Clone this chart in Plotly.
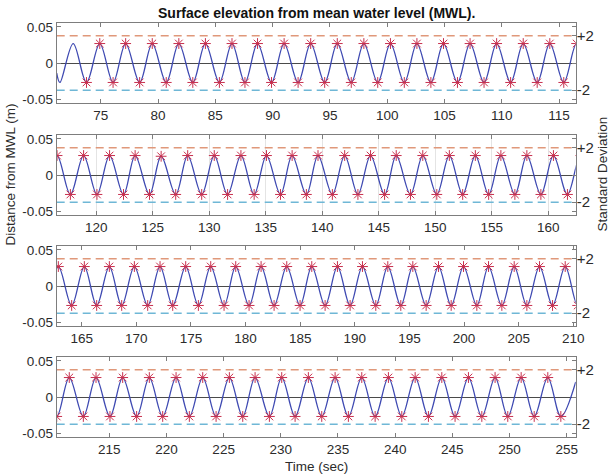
import plotly.graph_objects as go

# ---------------------------------------------------------------------------
# Surface elevation record (m) relative to mean water level, 4 stacked windows
# ---------------------------------------------------------------------------

# first and last samples of the record
record_start_t, record_start_h = 71.15, -0.014
record_end_t, record_end_h = 255.79, 0.021

# extrema before the peak finder starts marking (trough, crest)
early_t = [71.43, 72.59]
early_h = [-0.027, 0.027]

# marked wave crests: time (s), elevation (m)
crest_t = [
    74.91, 77.17, 79.49, 81.81, 84.13, 86.45, 88.68, 91.00, 93.32, 95.64,
    97.96, 100.28, 102.59, 104.91, 107.23, 109.55, 111.87, 114.19,
    116.53, 118.88, 121.18, 123.44, 125.74, 128.09, 130.44, 132.80, 135.06,
    137.33, 139.62, 141.98, 144.27, 146.54, 148.89, 151.24, 153.54, 155.80,
    158.10, 160.45,
    162.86, 165.24, 167.53, 169.82, 172.17, 174.52, 176.81, 179.10, 181.42,
    183.77, 186.06, 188.41, 190.70, 193.02, 195.31, 197.66, 199.95, 202.24,
    204.59, 206.91, 209.26,
    211.50, 213.84, 216.17, 218.50, 220.84, 223.17, 225.50, 227.75, 230.08,
    232.41, 234.75, 237.08, 239.41, 241.75, 244.08, 246.41, 248.74, 251.02,
    253.35,
]
crest_h = [
    0.027, 0.027, 0.027, 0.027, 0.027, 0.027, 0.027, 0.027, 0.027, 0.027,
    0.027, 0.027, 0.027, 0.027, 0.027, 0.027, 0.027, 0.027,
    0.027, 0.027, 0.027, 0.027, 0.026, 0.027, 0.027, 0.027, 0.027,
    0.027, 0.027, 0.027, 0.027, 0.027, 0.027, 0.027, 0.027, 0.027,
    0.027, 0.027,
    0.027, 0.027, 0.027, 0.027, 0.027, 0.027, 0.027, 0.027, 0.027,
    0.027, 0.027, 0.027, 0.027, 0.027, 0.027, 0.027, 0.027, 0.027,
    0.027, 0.027, 0.027,
    0.027, 0.027, 0.027, 0.027, 0.027, 0.027, 0.027, 0.027, 0.027,
    0.027, 0.027, 0.027, 0.027, 0.027, 0.027, 0.027, 0.027, 0.027,
    0.027,
]

# marked wave troughs: time (s), elevation (m)
trough_t = [
    73.75, 76.07, 78.39, 80.71, 83.03, 85.35, 87.58, 89.90, 92.22, 94.54,
    96.86, 99.17, 101.49, 103.81, 106.13, 108.45, 110.77, 113.09, 115.41,
    117.71, 120.06, 122.41, 124.71, 127.03, 129.33, 131.62, 133.97, 136.30,
    138.59, 140.89, 143.15, 145.51, 147.80, 150.13, 152.42, 154.72, 157.04,
    159.34, 161.69,
    164.08, 166.37, 168.66, 171.04, 173.33, 175.68, 178.03, 180.32, 182.61,
    184.99, 187.28, 189.57, 191.92, 194.21, 196.53, 198.82, 201.17, 203.46,
    205.75, 208.10,
    210.40, 212.73, 215.06, 217.39, 219.67, 222.00, 224.34, 226.67, 229.00,
    231.25, 233.58, 235.91, 238.25, 240.58, 242.91, 245.24, 247.58, 249.85,
    252.16, 254.49,
]
trough_h = [
    -0.027, -0.027, -0.027, -0.027, -0.027, -0.027, -0.027, -0.027, -0.027,
    -0.027, -0.027, -0.027, -0.027, -0.027, -0.027, -0.027, -0.027, -0.027,
    -0.027,
    -0.027, -0.027, -0.027, -0.027, -0.027, -0.027, -0.027, -0.027, -0.027,
    -0.027, -0.027, -0.027, -0.027, -0.027, -0.027, -0.027, -0.027, -0.027,
    -0.027, -0.027,
    -0.027, -0.027, -0.027, -0.027, -0.027, -0.027, -0.027, -0.027, -0.027,
    -0.027, -0.027, -0.027, -0.027, -0.027, -0.027, -0.027, -0.027, -0.027,
    -0.027, -0.027,
    -0.027, -0.027, -0.027, -0.027, -0.027, -0.027, -0.027, -0.027, -0.027,
    -0.027, -0.027, -0.027, -0.027, -0.027, -0.027, -0.027, -0.027, -0.027,
    -0.027, -0.027,
]

# standard deviation of the elevation (m); reference lines at +/- 2 sigma
sigma = 0.0189
sd_levels = [2, -2]
sd_labels = ["+2", "-2"]

# time window of each panel (s) and its tick labels
panel_start = [71.15, 116.50, 162.71, 210.40]
panel_end = [116.45, 162.42, 210.22, 255.79]
panel_ticks = [
    [75, 80, 85, 90, 95, 100, 105, 110, 115],
    [120, 125, 130, 135, 140, 145, 150, 155, 160],
    [165, 170, 175, 180, 185, 190, 195, 200, 205, 210],
    [215, 220, 225, 230, 235, 240, 245, 250, 255],
]
elev_ticks = [-0.05, 0, 0.05]
elev_tick_text = ["-0.05", "0", "0.05"]
elev_range = [-0.0555, 0.0555]

# ---------------------------------------------------------------------------
# surface trace through every sample, sorted in time
samples = sorted(
    [(record_start_t, record_start_h), (record_end_t, record_end_h)]
    + list(zip(early_t, early_h))
    + list(zip(crest_t, crest_h))
    + list(zip(trough_t, trough_h))
)
wave_t = [s[0] for s in samples]
wave_h = [s[1] for s in samples]
peak_t = crest_t + trough_t
peak_h = crest_h + trough_h

W, H = 611, 475
FONT = "Liberation Sans, Arial, Helvetica, sans-serif"
AX_COL = "#7d7d7d"
TXT_COL = "#2b2b2b"
WAVE_COL = "#3f4ab2"
STAR_COL = "#c8304e"
UP_COL = "#e0987a"
LO_COL = "#6fb7d6"

panel_top_px = [23, 135, 246, 357]
panel_h_px = 80
x0_px, x1_px = 56.7, 575.7

fig = go.Figure()
layout = dict(
    width=W, height=H,
    margin=dict(l=0, r=0, t=0, b=0),
    paper_bgcolor="white", plot_bgcolor="white",
    showlegend=False,
    font=dict(family=FONT, size=13, color=TXT_COL),
)

for i in range(4):
    n = i + 1
    xa = "x" if n == 1 else f"x{n}"
    ya = "y" if n == 1 else f"y{n}"
    ya_r = f"y{n + 4}"
    top = panel_top_px[i]
    dom_y = [1 - (top + panel_h_px) / H, 1 - top / H]

    layout[f"xaxis{n}" if n > 1 else "xaxis"] = dict(
        domain=[x0_px / W, x1_px / W], anchor=ya,
        range=[panel_start[i], panel_end[i]],
        tickvals=panel_ticks[i], ticktext=[str(v) for v in panel_ticks[i]],
        ticks="inside", ticklen=4, tickcolor=AX_COL, tickwidth=1,
        showline=True, linecolor=AX_COL, linewidth=1, mirror="ticks",
        showgrid=(n == 2), gridcolor="#e4e4e4", gridwidth=1,
        zeroline=False, automargin=False,
        tickfont=dict(family=FONT, size=13.5, color=TXT_COL),
    )
    layout[f"yaxis{n}" if n > 1 else "yaxis"] = dict(
        domain=dom_y, anchor=xa, range=elev_range,
        tickvals=elev_ticks, ticktext=elev_tick_text,
        ticks="inside", ticklen=4, tickcolor=AX_COL, tickwidth=1,
        showline=True, linecolor=AX_COL, linewidth=1, mirror="ticks",
        showgrid=False,
        zeroline=True, zerolinecolor="#4a4a4a", zerolinewidth=1.4,
        automargin=False,
        tickfont=dict(family=FONT, size=13.5, color=TXT_COL),
    )
    layout[f"yaxis{n + 4}"] = dict(
        overlaying=ya, anchor=xa, side="right", range=elev_range,
        tickvals=[k * sigma for k in sd_levels], ticktext=sd_labels,
        ticks="inside", ticklen=4, tickcolor=AX_COL, tickwidth=1,
        showline=False, showgrid=False, zeroline=False, automargin=False,
        tickfont=dict(family=FONT, size=15, color=TXT_COL),
    )

    # surface elevation
    fig.add_trace(go.Scatter(
        x=wave_t, y=wave_h, xaxis=xa, yaxis=ya, mode="lines",
        line=dict(color=WAVE_COL, width=1.3, shape="spline", smoothing=1.0),
        hoverinfo="skip",
    ))
    # crests and troughs
    fig.add_trace(go.Scatter(
        x=peak_t, y=peak_h, xaxis=xa, yaxis=ya, mode="markers",
        marker=dict(symbol="asterisk-open", size=9, color=STAR_COL,
                    line=dict(color=STAR_COL, width=1.0)),
        cliponaxis=True, hoverinfo="skip",
    ))
    # +/- 2 standard deviation levels on the right-hand axis
    for lvl, col in zip(sd_levels, [UP_COL, LO_COL]):
        fig.add_trace(go.Scatter(
            x=[panel_start[i], panel_end[i]], y=[lvl * sigma, lvl * sigma],
            xaxis=xa, yaxis=ya_r, mode="lines",
            line=dict(color=col, width=1.3, dash="8px,5px"),
            hoverinfo="skip",
        ))

fig.update_layout(**layout)

# titles
fig.add_annotation(
    text="<b>Surface elevation from mean water level (MWL).</b>",
    x=(x0_px + x1_px) / 2 / W, y=1 - 13.5 / H, xref="paper", yref="paper",
    showarrow=False, xanchor="center", yanchor="middle",
    font=dict(family=FONT, size=14, color="#111111"),
)
fig.add_annotation(
    text="Time (sec)", x=(x0_px + x1_px) / 2 / W, y=1 - 466 / H,
    xref="paper", yref="paper", showarrow=False,
    xanchor="center", yanchor="middle",
    font=dict(family=FONT, size=13.5, color=TXT_COL),
)
fig.add_annotation(
    text="Distance from MWL (m)", x=10 / W, y=1 - 174.5 / H,
    xref="paper", yref="paper", showarrow=False, textangle=-90,
    xanchor="center", yanchor="middle",
    font=dict(family=FONT, size=13.5, color=TXT_COL),
)
fig.add_annotation(
    text="Standard Deviation", x=602 / W, y=1 - 174.5 / H,
    xref="paper", yref="paper", showarrow=False, textangle=-90,
    xanchor="center", yanchor="middle",
    font=dict(family=FONT, size=13.5, color=TXT_COL),
)

fig.write_html("out.html")
